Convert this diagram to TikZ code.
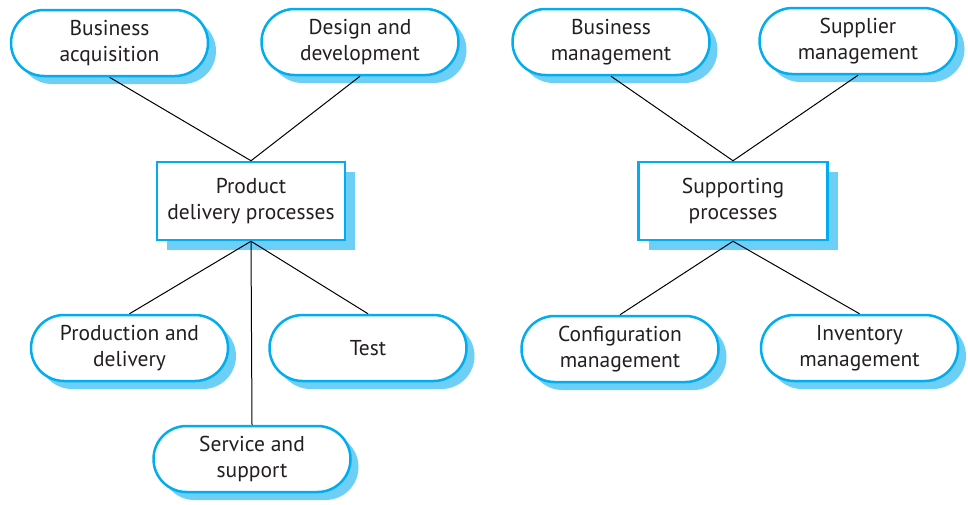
\documentclass[tikz,border=0pt]{standalone}
\usepackage{fontspec}
\setmainfont{PT Sans}
\usetikzlibrary{shadows}
\definecolor{edgeblue}{HTML}{00AEEF}
\definecolor{shadeblue}{HTML}{6DCFF6}
\definecolor{ink}{HTML}{231F20}
\tikzset{
  proc/.style={draw=edgeblue, line width=2.5pt, fill=white, text=ink,
    minimum width=197pt, minimum height=66pt, rounded corners=33pt,
    align=center, font=\fontsize{21.5}{26}\selectfont, inner sep=0pt,
    general shadow={fill=shadeblue, shadow xshift=8pt, shadow yshift=-8pt}},
  group/.style={draw=edgeblue, line width=2.5pt, fill=white, text=ink,
    minimum width=188pt, minimum height=78pt,
    align=center, font=\fontsize{21.5}{26}\selectfont, inner sep=0pt,
    general shadow={fill=shadeblue, shadow xshift=10pt, shadow yshift=-10pt}},
  link/.style={draw=black, line width=1pt}
}
\begin{document}
\begin{tikzpicture}[x=1pt,y=-1pt]
\useasboundingbox (0,0) rectangle (968,504);
\node[proc] (ba) at (109.5,43) {Business\\acquisition};
\node[proc] (dd) at (360,42) {Design and\\development};
\node[group] (pdp) at (251,201) {Product\\delivery processes};
\node[proc] (pd) at (129.5,348) {Production and\\delivery};
\node[proc] (te) at (368,348) {Test};
\node[proc] (ss) at (252,459) {Service and\\support};
\node[proc] (bm) at (611,42) {Business\\management};
\node[proc] (sm) at (858,41) {Supplier\\management};
\node[group, minimum width=189pt] (sp) at (733,201) {Supporting\\processes};
\node[proc] (cm) at (620,349) {Configuration\\management};
\node[proc] (im) at (859.5,348) {Inventory\\management};
\draw[link] (ba.south) -- (pdp.north);
\draw[link] (dd.south) -- (pdp.north);
\draw[link] (pdp.south) -- (pd.north);
\draw[link] (pdp.south) -- (te.north);
\draw[link] (pdp.south) -- (ss.north);
\draw[link] (bm.south) -- (sp.north);
\draw[link] (sm.south) -- (sp.north);
\draw[link] (sp.south) -- (cm.north);
\draw[link] (sp.south) -- (im.north);
\end{tikzpicture}
\end{document}
